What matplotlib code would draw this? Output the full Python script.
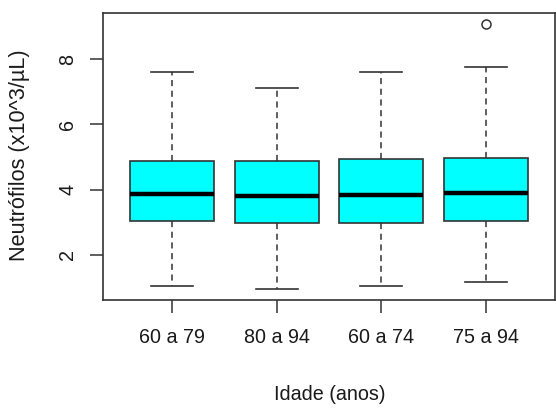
import matplotlib
matplotlib.use("Agg")
import matplotlib.pyplot as plt

plt.rcParams['font.family'] = ['Liberation Sans', 'DejaVu Sans']

categories = ["60 a 79", "80 a 94", "60 a 74", "75 a 94"]
whislo = [1.05, 0.96, 1.05, 1.16]
q1 = [3.03, 2.98, 2.98, 3.03]
med = [3.875, 3.80, 3.83, 3.90]
q3 = [4.885, 4.88, 4.93, 4.98]
whishi = [7.60, 7.11, 7.59, 7.755]
fliers = [[], [], [], [9.06]]
yticks = [2, 4, 6, 8]

W, H = 556, 408
fig = plt.figure(figsize=(W / 100, H / 100), dpi=100)
ax = fig.add_axes([103 / W, (H - 300) / H, (555 - 103) / W, (300 - 13) / H])

stats = []
for i, c in enumerate(categories):
    stats.append(dict(label=c, whislo=whislo[i], q1=q1[i], med=med[i], q3=q3[i],
                      whishi=whishi[i], fliers=fliers[i]))

ax.bxp(stats, positions=range(1, 5), widths=0.8, capwidths=0.4, patch_artist=True,
       boxprops=dict(facecolor='#00FFFF', edgecolor='#333333', linewidth=1.2),
       medianprops=dict(color='black', linewidth=3.2, solid_capstyle='butt'),
       whiskerprops=dict(color='#333333', linewidth=1.1, linestyle=(0, (4, 3))),
       capprops=dict(color='#333333', linewidth=1.2),
       flierprops=dict(marker='o', markerfacecolor='none', markeredgecolor='#333333',
                       markersize=6.5, markeredgewidth=1.1))

ax.set_xlim(0.34, 4.66)
ax.set_ylim(0.62, 9.41)
ax.set_yticks(yticks)
ax.set_yticklabels([str(v) for v in yticks], rotation=90, va='center')
ax.set_xticks(range(1, 5))
ax.set_xticklabels(categories)
ax.tick_params(axis='both', length=9.4, width=1.1, color='#333333', labelsize=14.2,
               labelcolor='#1a1a1a')
ax.tick_params(axis='x', pad=11)
ax.tick_params(axis='y', pad=9)
for s in ax.spines.values():
    s.set_color('#333333')
    s.set_linewidth(1.2)

fig.text(330 / W, 1 - 395 / H, "Idade (anos)", ha='center', va='center',
         fontsize=14.2, color='#1a1a1a')
fig.text(20 / W, 1 - 155.5 / H, "Neutrófilos (x10^3/µL)", ha='center', va='center',
         rotation=90, fontsize=15.6, color='#1a1a1a')

fig.savefig("out.png", dpi=100)
